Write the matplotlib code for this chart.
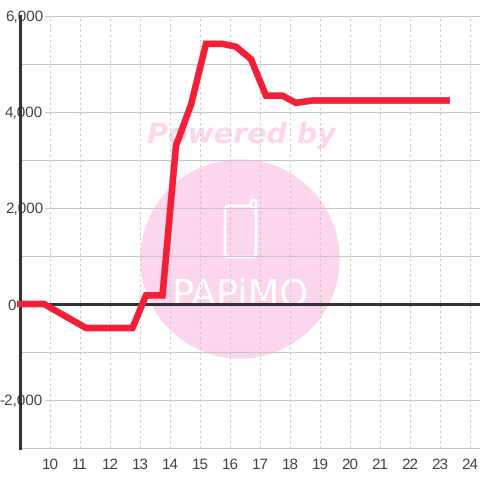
import matplotlib
matplotlib.use("Agg")
import matplotlib.pyplot as plt
from matplotlib.patches import Circle, FancyBboxPatch

hours = [8.9, 9.8, 11.2, 12.75, 13.2, 13.75, 14.2, 14.7, 15.2, 15.75, 16.2, 16.7, 17.2, 17.75, 18.2, 18.75, 19.25, 23.33]
values = [0, 0, -500, -500, 180, 180, 3300, 4150, 5420, 5420, 5360, 5100, 4340, 4340, 4190, 4240, 4240, 4240]

x_ticks = list(range(10, 25))
y_ticks = [-2000, 0, 2000, 4000, 6000]
y_grid = [-3000, -2000, -1000, 0, 1000, 2000, 3000, 4000, 5000, 6000]

plt.rcParams["font.family"] = ["Liberation Sans", "DejaVu Sans"]
plt.rcParams["text.hinting"] = "none"

fig = plt.figure(figsize=(4.8, 4.8), dpi=100)
ax = fig.add_axes([20 / 480, 1 - 448 / 480, 460 / 480, 432 / 480])
ax.set_xlim(9, 24.333)
ax.set_ylim(-3000, 6000)
ax.patch.set_alpha(0)

# watermark sits behind the axes
pink = "#fcd6ec"
fig.patches.append(Circle((240 / 480, 1 - 259 / 480), 99 / 480, transform=fig.transFigure, color=pink, zorder=-5))
fig.patches.append(FancyBboxPatch((225 / 480, 1 - 257 / 480), 31 / 480, 51 / 480, boxstyle="round,pad=0,rounding_size=0.008",
                                  transform=fig.transFigure, fc="none", ec="white", lw=2, zorder=-4))
fig.patches.append(FancyBboxPatch((251 / 480, 1 - 208 / 480), 5 / 480, 8 / 480, boxstyle="round,pad=0,rounding_size=0.005",
                                  transform=fig.transFigure, fc=pink, ec="white", lw=2, zorder=-4))
fig.text(241 / 480, 1 - 135 / 480, "Powered by", color=pink, family="DejaVu Sans", fontsize=20.5,
         weight="bold", style="italic", ha="center", va="center", zorder=-4)
fig.text(240 / 480, 1 - 305 / 480, "PAPiMO", color="white", family=["Liberation Sans Narrow", "DejaVu Sans"], fontsize=26.5,
         ha="center", va="baseline", zorder=-4)

# grid
for y in y_grid:
    ax.axhline(y, color="#c8c8c8", lw=0.75, zorder=1, clip_on=False)
for x in x_ticks:
    ax.axvline(x, color="#c8c8c8", lw=0.75, ls=(0, (2.2, 2.8)), zorder=1)

ax.axhline(0, color="#333333", lw=2.2, zorder=2)
ax.plot(hours, values, color="#f22036", lw=4.8, solid_joinstyle="miter",
        solid_capstyle="butt", clip_on=False, zorder=3)

for s in ["top", "right", "bottom"]:
    ax.spines[s].set_visible(False)
ax.spines["left"].set_color("#333333")
ax.spines["left"].set_linewidth(2.2)
ax.spines["left"].set_zorder(2)

ax.set_xticks(x_ticks)
ax.set_xticklabels([str(x) for x in x_ticks])
ax.set_yticks(y_ticks)
ax.set_yticklabels(["{:,}".format(y) for y in y_ticks])
ax.tick_params(axis="both", length=0, labelsize=11, labelcolor="#444444")
ax.tick_params(axis="x", pad=7)
ax.tick_params(axis="y", pad=-16.5)
for tick, val in zip(ax.yaxis.get_major_ticks(), y_ticks):
    if val == 0:
        # the zero label sits left of the axis line, no white box
        tick.set_pad(3)
    else:
        tick.label1.set_bbox(dict(fc="white", ec="none", pad=1.5))
    tick.label1.set_zorder(4)

fig.savefig("out.png", dpi=100)
